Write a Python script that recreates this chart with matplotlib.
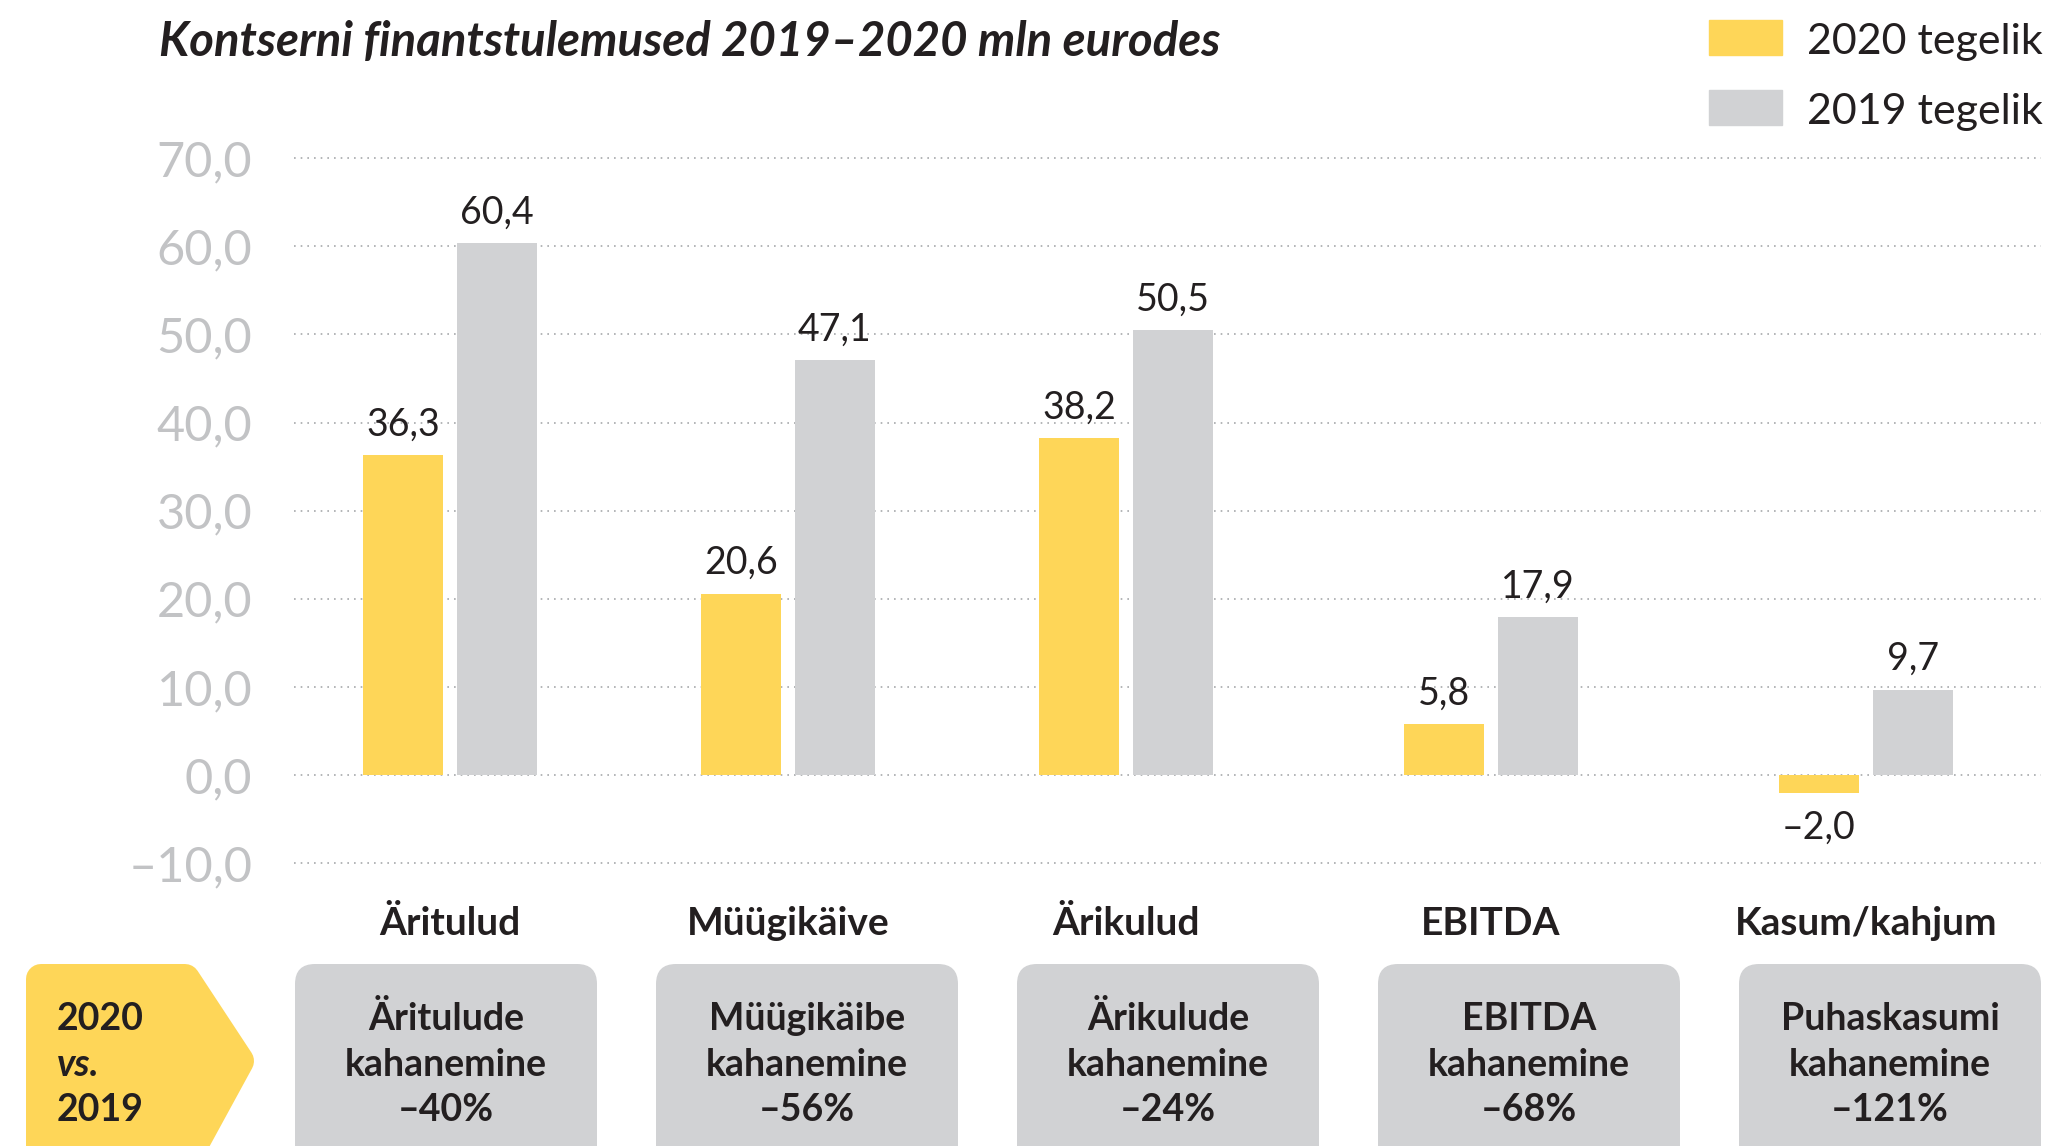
import matplotlib
matplotlib.use("Agg")
import matplotlib.pyplot as plt
from matplotlib.patches import FancyBboxPatch, Rectangle, Polygon
from matplotlib.ticker import FuncFormatter

plt.rcParams['font.family'] = ['Lato', 'DejaVu Sans']

# data
categories = ["Äritulud", "Müügikäive", "Ärikulud", "EBITDA", "Kasum/kahjum"]
actual_2020 = [36.3, 20.6, 38.2, 5.8, -2.0]
actual_2019 = [60.4, 47.1, 50.5, 17.9, 9.7]
series_names = ["2020 tegelik", "2019 tegelik"]
change_titles = ["Äritulude", "Müügikäibe", "Ärikulude", "EBITDA", "Puhaskasumi"]
change_pct = [-40, -56, -24, -68, -121]
yticks = [-10, 0, 10, 20, 30, 40, 50, 60, 70]

YELLOW = "#FED658"
GREY = "#D1D2D4"
DARK = "#231F20"
TICK = "#C2C3C5"

W, H = 2049, 1146
fig = plt.figure(figsize=(W / 100, H / 100), dpi=100)

# layout (group centres, slightly uneven as in the original)
xpos = [0, 1.0, 2.003, 3.083, 4.194]
bw = 0.237
off = 0.139

ax = fig.add_axes([294 / W, 0.2314, (2041 - 294) / W, 0.6459])
ax.set_xlim(-0.463, 4.713)
ax.set_ylim(-12, 72)

b20 = ax.bar([x - off for x in xpos], actual_2020, bw, color=YELLOW, zorder=2)
b19 = ax.bar([x + off for x in xpos], actual_2019, bw, color=GREY, zorder=2)


def fmt(v, pos=None):
    return f"{v:.1f}".replace(".", ",").replace("-", "–")


for bars, vals in ((b20, actual_2020), (b19, actual_2019)):
    for rect, v in zip(bars, vals):
        cx = rect.get_x() + rect.get_width() / 2
        if v >= 0:
            ax.annotate(fmt(v), (cx, v), xytext=(0, 14), textcoords="offset points",
                        ha="center", va="baseline", fontsize=27, color=DARK)
        else:
            ax.annotate(fmt(v), (cx, v), xytext=(0, -33), textcoords="offset points",
                        ha="center", va="baseline", fontsize=27, color=DARK)

ax.set_yticks(yticks)
ax.yaxis.set_major_formatter(FuncFormatter(fmt))
ax.tick_params(axis="y", length=0, pad=30, labelsize=35, labelcolor=TICK)
ax.set_xticks(xpos)
ax.set_xticklabels(categories, fontsize=28, fontweight="bold", color=DARK)
ax.tick_params(axis="x", length=0, pad=18)
ax.grid(axis="y", color="#A7A9AC", linestyle=(0, (1, 3)), linewidth=1.2, zorder=0)
for s in ax.spines.values():
    s.set_visible(False)

# overlay in pixel coordinates for title, legend and boxes
ov = fig.add_axes([0, 0, 1, 1], zorder=-1)
ov.set_xlim(0, W)
ov.set_ylim(H, 0)
ov.axis("off")

ov.text(159, 42, "Kontserni finantstulemused 2019–2020 mln eurodes", fontsize=34,
        fontweight="bold", fontstyle="italic", color=DARK, ha="left", va="center")

for i, (name, col) in enumerate(zip(series_names, [YELLOW, GREY])):
    y = 20 + i * 70
    ov.add_patch(Rectangle((1709, y), 73, 35, color=col))
    ov.text(1807, y + 22, name, fontsize=31, color=DARK, ha="left", va="center")

# yellow arrow box
r = 15
arrow = Polygon([(26 + r, 964 + r), (190 - 5, 964 + r), (256 - 17, 1061),
                 (190 - 5, 1160), (26 + r, 1160)], closed=True,
                facecolor=YELLOW, edgecolor=YELLOW, linewidth=2 * r * 0.72,
                joinstyle="round")
ov.add_patch(arrow)
for j, t in enumerate(["2020", "vs.", "2019"]):
    ov.text(57, 1019 + j * 45.5, t, fontsize=27, fontweight="bold",
            fontstyle="italic" if t == "vs." else "normal",
            color=DARK, ha="left", va="center")

for i, (t, p) in enumerate(zip(change_titles, change_pct)):
    x0 = 295 + i * 361
    ov.add_patch(FancyBboxPatch((x0, 964), 302, 220,
                                boxstyle="round,pad=0,rounding_size=20",
                                facecolor=GREY, edgecolor="none"))
    lines = [t, "kahanemine", f"–{abs(p)}%"]
    for j, line in enumerate(lines):
        ov.text(x0 + 151, 1019 + j * 45.5, line, fontsize=27, fontweight="bold",
                color=DARK, ha="center", va="center")

fig.savefig("out.png", dpi=100)
